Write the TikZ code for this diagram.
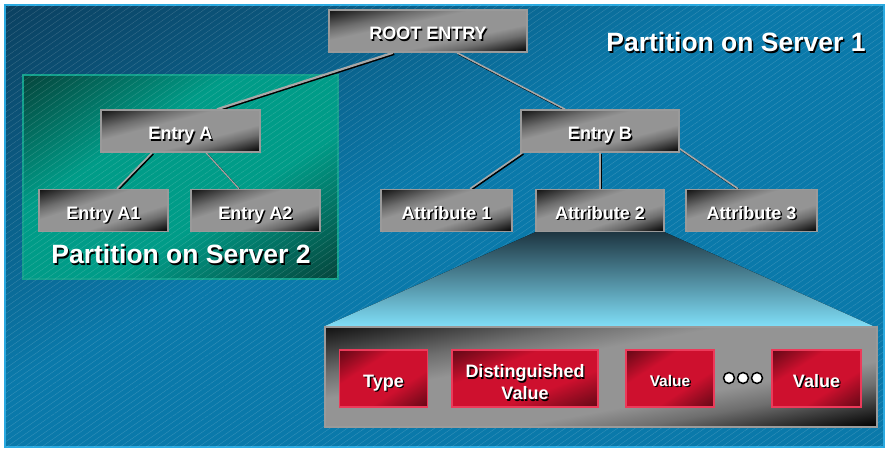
\documentclass[tikz,border=0pt]{standalone}
\usepackage{fontspec}
\setmainfont{Liberation Sans}
\usetikzlibrary{calc,patterns.meta}

% palette
\definecolor{frameblue}{HTML}{2AA9E0}
\definecolor{deepblue}{HTML}{0B4161}
\definecolor{midblue}{HTML}{0A79AA}
\definecolor{metaldark}{HTML}{141414}
\definecolor{metalA}{HTML}{6E6E6E}
\definecolor{metalB}{HTML}{949494}
\definecolor{nodeedge}{HTML}{9A9A9A}
\definecolor{tealdark}{HTML}{05463D}
\definecolor{tealmid}{HTML}{009C88}
\definecolor{tealedge}{HTML}{12A08C}
\definecolor{reddark}{HTML}{640816}
\definecolor{redmid}{HTML}{CE102E}
\definecolor{rededge}{HTML}{EC3A5A}
\definecolor{linkgray}{HTML}{A8A8A8}
\definecolor{cyantop}{HTML}{1E3642}
\definecolor{cyanmid}{HTML}{4E9CBC}
\definecolor{cyanlow}{HTML}{80DEF7}

% diagonal sheens: dark towards the top-left and bottom-right corners
% (the corners of a box sit at 14.6bp and 85.4bp along the axis)
\pgfdeclarehorizontalshading{metal}{100bp}{color(0bp)=(black); color(15bp)=(metaldark); color(31bp)=(metalA); color(40bp)=(metalB); color(62bp)=(metalB); color(70bp)=(metalA); color(85bp)=(black); color(100bp)=(black)}
\pgfdeclarehorizontalshading{tealsheen}{100bp}{color(0bp)=(tealdark); color(15bp)=(tealdark); color(38bp)=(tealmid); color(60bp)=(tealmid); color(85bp)=(tealdark); color(100bp)=(tealdark)}
\pgfdeclarehorizontalshading{redsheen}{100bp}{color(0bp)=(reddark); color(15bp)=(reddark); color(36bp)=(redmid); color(62bp)=(redmid); color(85bp)=(reddark); color(100bp)=(reddark)}
\pgfdeclarehorizontalshading{bgsheen}{100bp}{color(0bp)=(deepblue); color(15bp)=(deepblue); color(45bp)=(midblue); color(100bp)=(midblue)}

% fill the current path with a shading laid diagonally across its box
\newcommand\sheenfill[1]{%
  \begin{pgfscope}%
  \pgfpointdiff{\pgfpointanchor{path picture bounding box}{south west}}%
               {\pgfpointanchor{path picture bounding box}{north east}}%
  \pgfgetlastxy{\sheenw}{\sheenh}%
  \pgftransformshift{\pgfpointanchor{path picture bounding box}{center}}%
  \pgftransformxscale{\sheenw/50bp}%
  \pgftransformyscale{\sheenh/50bp}%
  \pgftransformrotate{-45}%
  \pgflowlevelsynccm
  \pgfuseshading{#1}%
  \end{pgfscope}}

% text with a dark drop shadow
\newcommand\shtxt[1]{\leavevmode\rlap{\hspace{1.4pt}\raisebox{-1.4pt}{\color{black}#1}}#1}
\newcommand\lblfont{\fontsize{18pt}{22pt}\selectfont\bfseries}
\newcommand\titlefont{\fontsize{26.5pt}{29pt}\selectfont\bfseries}

\pgfdeclarelayer{back}
\pgfdeclarelayer{mid}
\pgfsetlayers{back,mid,main}

\tikzset{
  sheen/.style={path picture={\sheenfill{#1}}},
  gnode/.style={sheen=metal, draw=nodeedge, line width=1.5pt,
    minimum width=#1, minimum height=42pt, inner sep=0pt, text=white, font=\lblfont,
    text height=18pt, text depth=0pt},
  rnode/.style={sheen=redsheen, draw=rededge, line width=1.5pt,
    minimum width=#1, minimum height=57pt, inner sep=0pt, text=white, font=\lblfont,
    text height=17pt, text depth=0pt},
  titletext/.style={text=white, font=\titlefont, inner sep=0pt},
  link/.style={draw=linkgray, line width=#1,
    preaction={draw=black, line width=#1, transform canvas={shift={(1.2pt,-1.2pt)}}}},
  dot/.style={circle, fill=white, draw=black, line width=1.5pt, minimum size=11pt, inner sep=0pt},
}

\begin{document}
\begin{tikzpicture}[x=1pt,y=-1pt]
\useasboundingbox (0,0) rectangle (887,449);

% tree of entries
\node[gnode=198pt] (root) at (428,31) {\shtxt{ROOT ENTRY}};
\node[gnode=159pt] (ea) at (180.5,131) {\shtxt{Entry A}};
\node[gnode=158pt] (eb) at (600,131) {\shtxt{Entry B}};
\node[gnode=129pt] (a1) at (103.5,210.5) {\shtxt{Entry A1}};
\node[gnode=129pt] (a2) at (255.5,210.5) {\shtxt{Entry A2}};
\node[gnode=131pt] (at1) at (446.5,210.5) {\shtxt{Attribute 1}};
\node[gnode=128pt] (at2) at (600,210.5) {\shtxt{Attribute 2}};
\node[gnode=131pt] (at3) at (751.5,210.5) {\shtxt{Attribute 3}};

% expanded view of an attribute
\node[sheen=metal, draw=nodeedge, line width=1.5pt,
      minimum width=552pt, minimum height=100pt, inner sep=0pt] (cont) at (601,377) {};
\node[rnode=88pt] (type) at (383.5,378.5) {\shtxt{Type}};
\node[rnode=146pt, text height=26pt, text depth=5.9pt] (dv) at (525,378.5)
  {\begin{tabular}{@{}c@{}}\shtxt{Distinguished}\\\shtxt{Value}\end{tabular}};
\node[rnode=88pt, font=\fontsize{15.5pt}{18pt}\selectfont\bfseries, text height=16pt] (v1) at (670,378.5) {\shtxt{Value}};
\node[rnode=89pt] (v2) at (816.5,378.5) {\shtxt{Value}};
\node[dot] (d1) at (729,378) {};
\node[dot] (d2) at (743,378) {};
\node[dot] (d3) at (757,378) {};

% partition titles
\node[titletext] (p1t) at (736,43) {\shtxt{Partition on Server 1}};

\begin{pgfonlayer}{back}
  \fill[white] (0,0) rectangle (887,449);
  \path[sheen=bgsheen, draw=frameblue, line width=2pt] (5,5) rectangle (884,447);
  \node[sheen=tealsheen, draw=tealedge, line width=1.5pt,
        minimum width=315pt, minimum height=204pt, inner sep=0pt] (p2) at (180.5,177) {};
  % fine diagonal texture over the slide
  \begin{scope}[transparency group, opacity=0.16]
    \fill[pattern={Lines[angle=35,distance=5pt,line width=0.45pt]}, pattern color=white]
      (6,6) rectangle (883,446);
  \end{scope}
\end{pgfonlayer}

\node[titletext] (p2t) at (181,255) {\shtxt{Partition on Server 2}};

\begin{pgfonlayer}{mid}
  \draw[link=2.2pt] ([xshift=-35pt]root.south) -- ([xshift=36.5pt]ea.north);
  \draw[link=1.6pt] ([xshift=29pt]root.south) -- ([xshift=-35pt]eb.north);
  \draw[link=1.6pt] ([xshift=-28.5pt]ea.south) -- ([xshift=13.5pt]a1.north);
  \draw[link=1.2pt] ([xshift=25.5pt]ea.south) -- ([xshift=-16.5pt]a2.north);
  \draw[link=1.6pt] ([xshift=2pt]eb.south west) -- ([xshift=23.5pt]at1.north);
  \draw[link=1.6pt] (eb.south) -- (at2.north);
  \draw[link=1.6pt] ([yshift=4pt]eb.south east) -- ([xshift=-13.5pt]at3.north);
  \fill[top color=cyantop, middle color=cyanmid, bottom color=cyanlow]
    (at2.south west) -- (at2.south east) -- ([xshift=-4pt]cont.north east) -- (cont.north west) -- cycle;
\end{pgfonlayer}
\end{tikzpicture}
\end{document}
